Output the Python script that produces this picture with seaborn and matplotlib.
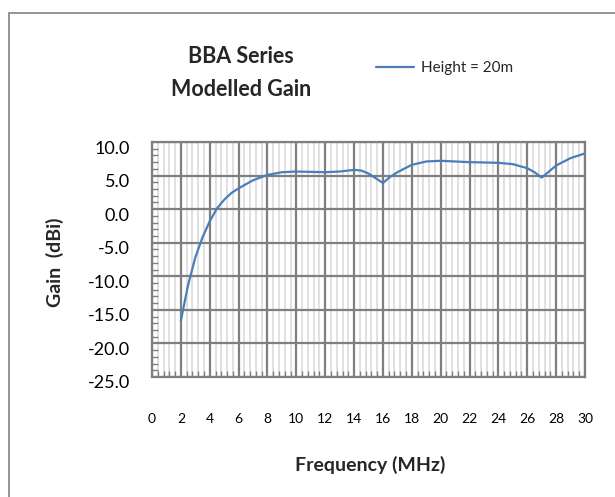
import matplotlib
matplotlib.use("Agg")
import matplotlib.pyplot as plt
import matplotlib.transforms as mtransforms
from matplotlib.patches import Rectangle
from matplotlib.ticker import FixedLocator
import seaborn as sns
import pandas as pd

# valores
freq = [2, 2.5, 3, 3.5, 4, 4.5, 5, 5.5, 6, 7, 8, 9, 10, 11, 12, 13, 14, 14.5,
        15, 15.5, 16, 16.5, 17, 18, 19, 20, 21, 22, 23, 24, 25, 26, 26.5, 27,
        27.5, 28, 29, 30]
gain = [-16.6, -11.3, -7.2, -4.2, -1.8, 0.1, 1.4, 2.4, 3.1, 4.3, 5.1, 5.5, 5.6,
        5.55, 5.5, 5.6, 5.85, 5.75, 5.3, 4.6, 3.9, 4.8, 5.5, 6.6, 7.1, 7.2, 7.1,
        7.0, 6.95, 6.9, 6.7, 6.1, 5.5, 4.7, 5.6, 6.5, 7.6, 8.3]
series_name = "Height = 20m"
x_ticks = list(range(0, 31, 2))
y_ticks = [10, 5, 0, -5, -10, -15, -20, -25]

line_color = "#4a7ebb"
grid_color = "#7f7f7f"
minor_color = "#d9d9d9"

sns.set_style("white")
plt.rcParams["font.family"] = ["Lato", "DejaVu Sans"]

df = pd.DataFrame({"Frequency": freq, "Gain": gain})

fig = plt.figure(figsize=(6.15, 4.97), dpi=100)
ax = fig.add_axes([152 / 615, 120 / 497, 433 / 615, 235 / 497])

sns.lineplot(data=df, x="Frequency", y="Gain", ax=ax, color=line_color,
             linewidth=1.6, label=series_name, legend=False, zorder=5)

ax.set_xlim(0, 30)
ax.set_ylim(-25, 10)
ax.set_xticks(x_ticks)
ax.set_yticks(y_ticks)
ax.set_yticklabels([f"{v:.1f}" for v in y_ticks])

# subdivisiones (5 por division mayor), sin repetir las mayores
x_minor = [a + k * 0.4 for a in x_ticks[:-1] for k in range(1, 5)]
y_minor = [b + k for b in y_ticks[1:] for k in range(1, 5)]
ax.xaxis.set_minor_locator(FixedLocator(x_minor))
ax.yaxis.set_minor_locator(FixedLocator(y_minor))

ax.set_axisbelow(True)
ax.grid(False)
ax.xaxis.grid(True, which="minor", color=minor_color, linewidth=1.1)
ax.xaxis.grid(True, which="major", color=grid_color, linewidth=1.6)
ax.yaxis.grid(True, which="major", color=grid_color, linewidth=1.6)

for s in ax.spines.values():
    s.set_color(grid_color)
    s.set_linewidth(1.6)

ax.tick_params(axis="both", which="major", length=0)
ax.tick_params(axis="y", which="major", labelsize=13, pad=16, labelcolor="black")
ax.tick_params(axis="x", which="major", labelsize=10, pad=26, labelcolor="black")
ax.tick_params(axis="y", which="minor", direction="in", length=4,
               color=grid_color, width=1, left=True)
ax.tick_params(axis="x", which="minor", direction="in", length=4,
               color=grid_color, width=1, bottom=True)

# etiquetas del eje y un poco mas abajo, como en excel
off = mtransforms.ScaledTranslation(0, -5 / 100, fig.dpi_scale_trans)
for lab in ax.get_yticklabels():
    lab.set_transform(lab.get_transform() + off)

ax.set_xlabel("")
ax.set_ylabel("")
fig.text(370 / 615, 1 - 465 / 497, "Frequency (MHz)", fontsize=14,
         fontweight="bold", ha="center", va="center")
fig.text(55 / 615, 1 - 262 / 497, "Gain  (dBi)", fontsize=14,
         fontweight="bold", ha="center", va="center", rotation=90)
fig.text(241 / 615, 1 - 73 / 497, "BBA Series\nModelled Gain", fontsize=15.5,
         fontweight="bold", ha="center", va="center", linespacing=1.75)

leg = fig.legend(loc="center left", bbox_to_anchor=(376 / 615, 1 - 68 / 497),
                 frameon=False, fontsize=11, handlelength=2.5,
                 handletextpad=0.45, borderaxespad=0, borderpad=0)

fig.patches.append(Rectangle((9 / 615, -0.05), 1.2, 1 - 13 / 497 + 0.05,
                             transform=fig.transFigure, fill=False,
                             edgecolor="#8c8c8c", linewidth=1.3))

fig.savefig("out.png", dpi=100)
